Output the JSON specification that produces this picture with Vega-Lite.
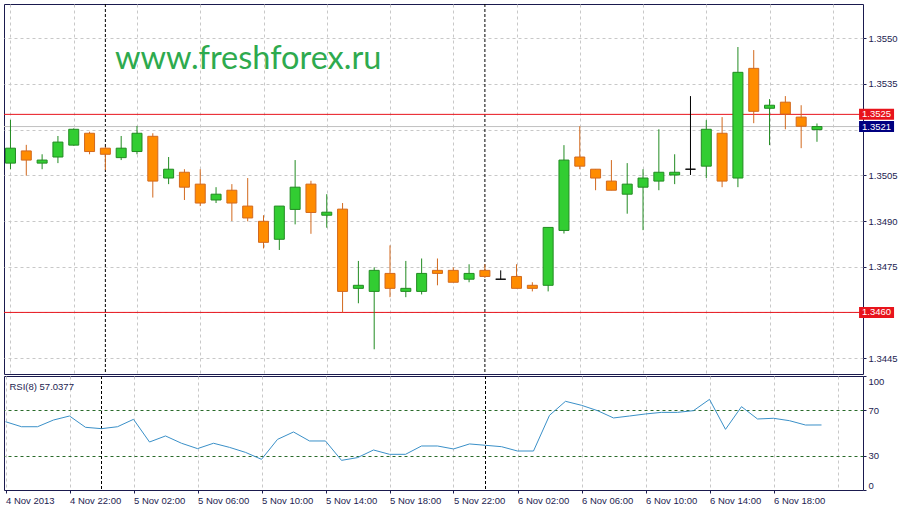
{
  "$schema": "https://vega.github.io/schema/vega-lite/v6.json",
  "background": "white",
  "padding": {"left": 3, "top": 3, "right": 0, "bottom": 0},
  "title": {"text": "www.freshforex.ru", "anchor": "start", "frame": "group", "orient": "top", "offset": -98.4, "dx": 111, "baseline": "alphabetic", "font": "Lato", "fontSize": 32.5, "fontWeight": "normal", "color": "#2eaa4e"},
  "datasets": {
    "bars": [
      {"t":"2013-11-04T18:00:00Z","o":1.35090,"h":1.35232,"l":1.35070,"c":1.35139,"rsi":59.9},
      {"t":"2013-11-04T19:00:00Z","o":1.35130,"h":1.35150,"l":1.35049,"c":1.35100,"rsi":55.5},
      {"t":"2013-11-04T20:00:00Z","o":1.35090,"h":1.35119,"l":1.35070,"c":1.35100,"rsi":55.5},
      {"t":"2013-11-04T21:00:00Z","o":1.35110,"h":1.35179,"l":1.35090,"c":1.35159,"rsi":61.4},
      {"t":"2013-11-04T22:00:00Z","o":1.35149,"h":1.35204,"l":1.35147,"c":1.35201,"rsi":64.9},
      {"t":"2013-11-04T23:00:00Z","o":1.35188,"h":1.35193,"l":1.35119,"c":1.35128,"rsi":55.0},
      {"t":"2013-11-05T00:00:00Z","o":1.35139,"h":1.35143,"l":1.35067,"c":1.35119,"rsi":53.8},
      {"t":"2013-11-05T01:00:00Z","o":1.35108,"h":1.35179,"l":1.35100,"c":1.35139,"rsi":55.5},
      {"t":"2013-11-05T02:00:00Z","o":1.35128,"h":1.35212,"l":1.35119,"c":1.35188,"rsi":62.0},
      {"t":"2013-11-05T03:00:00Z","o":1.35178,"h":1.35188,"l":1.34977,"c":1.35031,"rsi":42.1},
      {"t":"2013-11-05T04:00:00Z","o":1.35041,"h":1.35110,"l":1.35021,"c":1.35070,"rsi":47.4},
      {"t":"2013-11-05T05:00:00Z","o":1.35060,"h":1.35070,"l":1.34969,"c":1.35011,"rsi":41.0},
      {"t":"2013-11-05T06:00:00Z","o":1.35021,"h":1.35070,"l":1.34949,"c":1.34959,"rsi":36.3},
      {"t":"2013-11-05T07:00:00Z","o":1.34969,"h":1.35011,"l":1.34959,"c":1.34988,"rsi":41.0},
      {"t":"2013-11-05T08:00:00Z","o":1.35001,"h":1.35021,"l":1.34900,"c":1.34959,"rsi":37.4},
      {"t":"2013-11-05T09:00:00Z","o":1.34949,"h":1.35041,"l":1.34899,"c":1.34910,"rsi":33.0},
      {"t":"2013-11-05T10:00:00Z","o":1.34899,"h":1.34919,"l":1.34810,"c":1.34830,"rsi":26.9},
      {"t":"2013-11-05T11:00:00Z","o":1.34840,"h":1.34949,"l":1.34805,"c":1.34949,"rsi":44.4},
      {"t":"2013-11-05T12:00:00Z","o":1.34938,"h":1.35100,"l":1.34889,"c":1.35011,"rsi":50.9},
      {"t":"2013-11-05T13:00:00Z","o":1.35021,"h":1.35032,"l":1.34858,"c":1.34928,"rsi":43.0},
      {"t":"2013-11-05T14:00:00Z","o":1.34919,"h":1.34988,"l":1.34878,"c":1.34929,"rsi":43.0},
      {"t":"2013-11-05T15:00:00Z","o":1.34939,"h":1.34959,"l":1.34600,"c":1.34669,"rsi":26.0},
      {"t":"2013-11-05T16:00:00Z","o":1.34679,"h":1.34769,"l":1.34630,"c":1.34689,"rsi":28.4},
      {"t":"2013-11-05T17:00:00Z","o":1.34669,"h":1.34748,"l":1.34479,"c":1.34738,"rsi":35.1},
      {"t":"2013-11-05T18:00:00Z","o":1.34728,"h":1.34820,"l":1.34650,"c":1.34679,"rsi":31.3},
      {"t":"2013-11-05T19:00:00Z","o":1.34669,"h":1.34769,"l":1.34650,"c":1.34679,"rsi":31.3},
      {"t":"2013-11-05T20:00:00Z","o":1.34669,"h":1.34777,"l":1.34659,"c":1.34728,"rsi":38.6},
      {"t":"2013-11-05T21:00:00Z","o":1.34738,"h":1.34777,"l":1.34689,"c":1.34728,"rsi":38.6},
      {"t":"2013-11-05T22:00:00Z","o":1.34738,"h":1.34748,"l":1.34699,"c":1.34699,"rsi":36.0},
      {"t":"2013-11-05T23:00:00Z","o":1.34709,"h":1.34758,"l":1.34699,"c":1.34728,"rsi":40.4},
      {"t":"2013-11-06T00:00:00Z","o":1.34738,"h":1.34758,"l":1.34713,"c":1.34718,"rsi":39.2},
      {"t":"2013-11-06T01:00:00Z","o":1.34709,"h":1.34738,"l":1.34709,"c":1.34709,"rsi":38.0},
      {"t":"2013-11-06T02:00:00Z","o":1.34718,"h":1.34758,"l":1.34679,"c":1.34679,"rsi":34.2},
      {"t":"2013-11-06T03:00:00Z","o":1.34689,"h":1.34699,"l":1.34669,"c":1.34679,"rsi":34.2},
      {"t":"2013-11-06T04:00:00Z","o":1.34689,"h":1.34879,"l":1.34669,"c":1.34879,"rsi":65.5},
      {"t":"2013-11-06T05:00:00Z","o":1.34869,"h":1.35149,"l":1.34859,"c":1.35100,"rsi":77.8},
      {"t":"2013-11-06T06:00:00Z","o":1.35110,"h":1.35211,"l":1.35070,"c":1.35080,"rsi":74.3},
      {"t":"2013-11-06T07:00:00Z","o":1.35070,"h":1.35070,"l":1.35001,"c":1.35041,"rsi":69.6},
      {"t":"2013-11-06T08:00:00Z","o":1.35031,"h":1.35100,"l":1.35001,"c":1.35001,"rsi":63.2},
      {"t":"2013-11-06T09:00:00Z","o":1.34988,"h":1.35090,"l":1.34924,"c":1.35021,"rsi":64.9},
      {"t":"2013-11-06T10:00:00Z","o":1.35011,"h":1.35070,"l":1.34870,"c":1.35041,"rsi":66.7},
      {"t":"2013-11-06T11:00:00Z","o":1.35031,"h":1.35201,"l":1.35001,"c":1.35060,"rsi":68.1},
      {"t":"2013-11-06T12:00:00Z","o":1.35051,"h":1.35119,"l":1.35021,"c":1.35060,"rsi":68.1},
      {"t":"2013-11-06T13:00:00Z","o":1.35070,"h":1.35310,"l":1.35051,"c":1.35070,"rsi":69.6},
      {"t":"2013-11-06T14:00:00Z","o":1.35080,"h":1.35231,"l":1.35041,"c":1.35201,"rsi":79.5},
      {"t":"2013-11-06T15:00:00Z","o":1.35188,"h":1.35241,"l":1.35011,"c":1.35031,"rsi":53.2},
      {"t":"2013-11-06T16:00:00Z","o":1.35041,"h":1.35471,"l":1.35011,"c":1.35388,"rsi":73.1},
      {"t":"2013-11-06T17:00:00Z","o":1.35401,"h":1.35461,"l":1.35221,"c":1.35260,"rsi":62.3},
      {"t":"2013-11-06T18:00:00Z","o":1.35270,"h":1.35300,"l":1.35149,"c":1.35280,"rsi":62.9},
      {"t":"2013-11-06T19:00:00Z","o":1.35290,"h":1.35310,"l":1.35201,"c":1.35251,"rsi":60.8},
      {"t":"2013-11-06T20:00:00Z","o":1.35241,"h":1.35280,"l":1.35139,"c":1.35211,"rsi":57.0},
      {"t":"2013-11-06T21:00:00Z","o":1.3520,"h":1.3522,"l":1.3516,"c":1.3521,"rsi":57.0377}
    ],
    "seps": [
      {"t":"2013-11-05T00:00:00Z"},
      {"t":"2013-11-06T00:00:00Z"}
    ],
    "levels": [
      {"price":1.3525,"kind":"level"},
      {"price":1.3460,"kind":"level"},
      {"price":1.3521,"kind":"bid"}
    ]
  },
  "spacing": 2,
  "bounds": "flush",
  "vconcat": [
    {
      "width": 859,
      "height": 370,
      "layer": [
        {
          "data": {"name": "seps"},
          "mark": {"type": "rule", "color": "#000000", "strokeDash": [3, 2], "strokeWidth": 1},
          "encoding": {"x": {"field": "t", "type": "temporal", "title": null, "scale": {"type": "utc"}}}
        },
        {
          "data": {"name": "levels"},
          "mark": {"type": "rule", "strokeWidth": 1},
          "encoding": {
            "y": {"field": "price", "type": "quantitative", "title": null},
            "stroke": {"condition": {"test": "datum.kind == 'bid'", "value": "#c0c0c0"}, "value": "#e8141c"}
          }
        },
        {
          "data": {"name": "bars"},
          "mark": {"type": "rule", "strokeWidth": 1, "clip": true},
          "encoding": {
            "x": {
              "field": "t", "type": "temporal",
              "scale": {"type": "utc", "nice": false, "domain": [1383587662500, 1383780937500]},
              "axis": {"orient": "bottom", "grid": true, "labels": false, "ticks": false, "domain": false, "title": null,
                "values": [1383588000000,1383595200000,1383602400000,1383609600000,1383616800000,1383624000000,1383631200000,1383638400000,1383645600000,1383652800000,1383660000000,1383667200000,1383674400000,1383681600000,1383688800000,1383696000000,1383703200000,1383710400000,1383717600000,1383724800000,1383732000000,1383739200000,1383746400000,1383753600000,1383760800000,1383768000000,1383775200000]}
            },
            "y": {
              "field": "l", "type": "quantitative",
              "scale": {"domain": [1.343979, 1.356122], "nice": false, "zero": false},
              "axis": {"orient": "right", "values": [1.3445, 1.346, 1.3475, 1.349, 1.3505, 1.352, 1.3535, 1.355],
                "labelExpr": "(abs(datum.value - 1.352) < 0.00001 || abs(datum.value - 1.346) < 0.00001) ? '' : format(datum.value, '.4f')",
                "grid": true, "labelOverlap": false, "labelBound": false, "labelFlush": false,
                "title": "▼ EURUSD,H1 \u00a01.3520 1.3522 1.3516 1.3521", "titleAngle": 0, "titleAlign": "left", "titleBaseline": "middle", "titleX": -854, "titleY": 11,
                "titleFont": "Liberation Sans", "titleFontSize": 9.5, "titleFontWeight": "normal", "titleColor": "#1c1c50"}
            },
            "y2": {"field": "h"},
            "stroke": {"condition": [{"test": "datum.c > datum.o", "value": "#228b22"}, {"test": "datum.c < datum.o", "value": "#d2691e"}], "value": "#000000"}
          }
        },
        {
          "data": {"name": "bars"},
          "mark": {"type": "bar", "width": 10, "strokeWidth": 1, "clip": true},
          "encoding": {
            "x": {"field": "t", "type": "temporal"},
            "y": {"field": "o", "type": "quantitative"},
            "y2": {"field": "c"},
            "fill": {"condition": [{"test": "datum.c > datum.o", "value": "#32cd32"}, {"test": "datum.c < datum.o", "value": "#ff8c00"}], "value": "#000000"},
            "stroke": {"condition": [{"test": "datum.c > datum.o", "value": "#228b22"}, {"test": "datum.c < datum.o", "value": "#d2691e"}], "value": "#000000"}
          }
        },
        {
          "data": {"name": "levels"},
          "mark": {"type": "tick", "orient": "horizontal", "thickness": 11, "size": 35, "opacity": 1},
          "encoding": {
            "x": {"datum": 1383785160000, "type": "temporal"},
            "y": {"field": "price", "type": "quantitative"},
            "color": {"condition": {"test": "datum.kind == 'bid'", "value": "#000080"}, "value": "#e8141c"}
          }
        },
        {
          "data": {"name": "levels"},
          "mark": {"type": "text", "font": "Liberation Sans", "fontSize": 9.5, "color": "#ffffff", "align": "center", "baseline": "middle"},
          "encoding": {
            "x": {"datum": 1383785160000, "type": "temporal"},
            "y": {"field": "price", "type": "quantitative"},
            "text": {"field": "price", "type": "quantitative", "format": ".4f"}
          }
        }
      ]
    },
    {
      "width": 859,
      "height": 114,
      "layer": [
        {
          "data": {"name": "seps"},
          "mark": {"type": "rule", "color": "#000000", "strokeDash": [3, 2], "strokeWidth": 1},
          "encoding": {"x": {"field": "t", "type": "temporal", "title": null, "scale": {"type": "utc"}}}
        },
        {
          "data": {"name": "bars"},
          "mark": {"type": "line", "color": "#3a90c8", "strokeWidth": 1, "clip": true},
          "encoding": {
            "x": {
              "field": "t", "type": "temporal",
              "scale": {"type": "utc", "nice": false, "domain": [1383587662500, 1383780937500]},
              "axis": {
                "orient": "bottom", "grid": true, "domain": false, "title": null,
                "values": [1383588000000,1383595200000,1383602400000,1383609600000,1383616800000,1383624000000,1383631200000,1383638400000,1383645600000,1383652800000,1383660000000,1383667200000,1383674400000,1383681600000,1383688800000,1383696000000,1383703200000,1383710400000,1383717600000,1383724800000,1383732000000,1383739200000,1383746400000,1383753600000,1383760800000,1383768000000,1383775200000],
                "labelExpr": "time(datum.value) == 1383588000000 ? '4 Nov 2013' : (((time(datum.value) - 1383588000000) % 14400000 == 0 && time(datum.value) <= 1383760800000) ? utcFormat(datum.value, '%-d %b %H:%M') : '')",
                "labelAlign": "left", "labelBaseline": "top", "labelOverlap": false, "labelBound": false, "labelFlush": false, "labelPadding": 2, "tickSize": 3,
                "tickOpacity": {"condition": {"test": "(time(datum.value) - 1383588000000) % 14400000 == 0 && time(datum.value) <= 1383760800000", "value": 1}, "value": 0}
              }
            },
            "y": {
              "field": "rsi", "type": "quantitative",
              "scale": {"domain": [0, 100], "nice": false},
              "axis": {"orient": "right", "values": [0, 30, 70, 100], "labelFlush": false, "labelOverlap": false, "labelBound": false,
                "grid": true, "gridColor": "#2a6a2a", "gridDash": [3, 3],
                "gridOpacity": {"condition": {"test": "datum.value == 30 || datum.value == 70", "value": 1}, "value": 0},
                "labelBaseline": {"condition": [{"test": "datum.value == 100", "value": "top"}, {"test": "datum.value == 0", "value": "bottom"}], "value": "middle"},
                "title": "RSI(8) 57.0377", "titleAngle": 0, "titleAlign": "left", "titleBaseline": "middle", "titleX": -854, "titleY": 10,
                "titleFont": "Liberation Sans", "titleFontSize": 9.5, "titleFontWeight": "normal", "titleColor": "#1c1c50"}
            }
          }
        }
      ]
    }
  ],
  "config": {
    "view": {"stroke": "#1a1a4e", "strokeWidth": 1},
    "axis": {"labelFont": "Liberation Sans", "labelFontSize": 9.5, "labelColor": "#1c1c50", "tickColor": "#1c1c50", "domain": false, "gridColor": "#c8c8c8", "gridDash": [3, 3], "gridWidth": 1, "tickSize": 3, "labelPadding": 2}
  }
}
